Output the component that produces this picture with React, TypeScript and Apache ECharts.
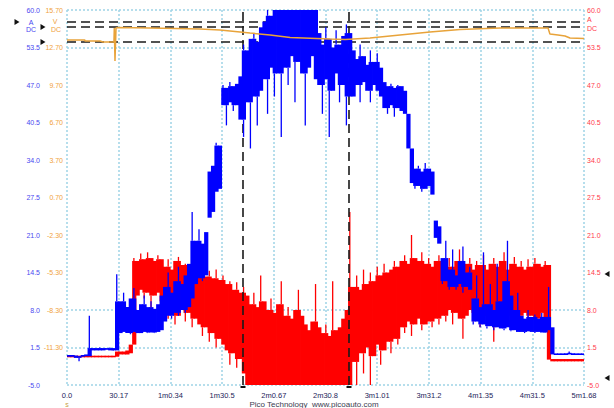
import { useEffect, useRef } from "react";
import * as echarts from "echarts";

const FONT = "Liberation Sans, Arial, sans-serif";

// Ten horizontal divisions spanning the capture
const timeLabels = ["0.0", "30.17", "1m0.34", "1m30.5", "2m0.67", "2m30.8", "3m1.01", "3m31.2", "4m1.35", "4m31.5", "5m1.68"];
const timeSpan = 301.68;

// Vertical division labels, listed top to bottom
const currentLabels = ["60.0", "53.5", "47.0", "40.5", "34.0", "27.5", "21.0", "14.5", "8.0", "1.5", "-5.0"];
const voltLabels = ["15.70", "12.70", "9.70", "6.70", "3.70", "0.70", "-2.30", "-5.30", "-8.30", "-11.30", ""];
const currentRange = [-5, 60];
const voltRange = [-14.3, 15.7];

// Division rows (from the top) that carry a dotted grid line
const gridRows = [0, 1, 8, 9, 10];

// Min/max envelope per 2 s bucket
const bucketSeconds = 2;

const blueHi = [
  0.2, 0.2, 0.1, 0.0, 0.2, 0.3, 7.0, 1.4, 1.4, 1.5,
  1.4, 1.4, 1.5, 1.4, 14.2, 9.5, 11.0, 8.5, 10.0, 11.8,
  8.0, 9.0, 10.5, 8.5, 9.5, 8.2, 9.0, 10.5, 12.0, 14.5,
  11.0, 13.0, 15.5, 12.5, 14.0, 16.0, 25.0, 20.0, 22.0, 19.5,
  21.5, 32.0, 33.0, 37.0, 36.5, 47.0, 46.5, 47.5, 46.8, 47.2,
  48.5, 54.0, 53.0, 55.0, 56.0, 54.5, 57.0, 58.0, 60.5, 59.0,
  61.0, 60.0, 62.0, 63.0, 63.0, 63.0, 63.0, 63.0, 63.0, 63.0,
  63.0, 63.0, 63.0, 56.0, 54.0, 57.0, 55.0, 53.5, 56.5, 54.0,
  55.5, 57.5, 56.0, 53.0, 51.5, 54.0, 52.0, 50.5, 53.0, 51.0,
  52.5, 50.0, 47.5, 46.8, 47.2, 46.5, 47.0, 46.8, 46.0, 42.0,
  36.0, 32.5, 33.0, 32.0, 33.5, 32.5, 32.0, 23.5, 22.5, 17.0,
  20.0, 15.0, 18.5, 14.0, 16.5, 19.0, 14.5, 15.5, 10.0, 14.0,
  8.5, 18.0, 9.0, 12.5, 8.0, 16.0, 9.5, 13.0, 20.0, 10.5,
  8.0, 11.0, 7.0, 6.5, 8.0, 6.8, 7.2, 6.5, 7.5, 6.8,
  12.0, 5.0, 0.4, 0.4, 0.4, 0.5, 0.8, 0.5, 0.4, 0.4,
  0.4,
];
const blueLo = [
  -0.1, -0.1, -0.3, -0.9, -0.1, 0.0, 0.0, 1.0, 1.0, 1.0,
  1.0, 1.1, 1.0, 0.9, 1.0, 4.0, 4.2, 4.0, 3.8, 4.2,
  4.0, 4.0, 4.2, 4.0, 4.1, 4.0, 4.2, 4.5, 6.0, 7.0,
  6.5, 7.5, 7.0, 8.0, 7.5, 8.5, 10.0, 12.5, 13.5, 13.0,
  14.0, 24.0, 25.0, 28.5, 29.0, 43.5, 40.0, 44.0, 42.5, 43.5,
  41.0, 38.0, 44.0, 36.0, 45.0, 40.0, 46.0, 48.0, 42.0, 50.0,
  45.0, 49.0, 38.0, 50.0, 47.0, 52.0, 44.0, 51.0, 49.0, 40.0,
  50.0, 52.0, 48.0, 47.0, 42.0, 48.0, 38.0, 46.0, 49.0, 44.0,
  47.0, 40.0, 45.0, 45.0, 47.0, 44.0, 47.5, 46.0, 44.0, 47.0,
  46.0, 45.0, 43.0, 42.0, 43.5, 41.5, 43.0, 42.5, 42.0, 36.0,
  30.0, 29.0, 29.5, 28.5, 29.0, 29.5, 28.0, 20.5, 19.5, 12.5,
  13.0, 11.5, 12.0, 11.5, 12.5, 11.0, 12.0, 11.5, 5.5, 6.0,
  5.0, 5.5, 4.8, 5.2, 4.5, 5.0, 4.8, 4.5, 5.0, 4.3,
  4.5, 4.2, 4.2, 4.0, 4.3, 4.2, 4.0, 4.2, 4.1, 4.0,
  4.5, 0.3, 0.2, 0.2, 0.2, 0.2, 0.3, 0.2, 0.2, 0.2,
  0.2,
];

const redHi = [
  -0.1, -0.1, -0.1, -0.1, -0.1, -0.1, -0.1, -0.1, -0.1, -0.1,
  -0.1, -0.1, -0.1, -0.1, 0.8, 0.8, 0.8, 1.0, 2.0, 17.0,
  16.5, 17.8, 16.8, 18.0, 17.0, 16.5, 17.5, 16.8, 15.5, 16.8,
  15.0, 16.5, 17.2, 15.8, 16.0, 15.2, 16.5, 15.0, 14.5, 15.5,
  13.8, 14.8, 13.5, 15.0, 13.2, 14.0, 12.5, 13.0, 11.5, 12.8,
  11.0, 12.0, 10.5, 9.0, 11.0, 8.5, 14.0, 9.5, 8.0, 10.0,
  7.5, 9.0, 13.0, 7.0, 8.5, 6.5, 8.0, 11.5, 7.0, 5.5,
  4.5, 6.0, 12.5, 5.0, 4.0, 5.5, 3.5, 13.0, 4.5, 5.0,
  6.5, 8.0, 25.0, 12.0, 14.0, 11.5, 15.0, 12.5, 14.5, 13.0,
  15.5, 14.0, 16.0, 14.5, 15.0, 16.5, 15.5, 16.5, 17.5, 16.0,
  21.0, 17.0, 16.5, 18.0, 16.0, 17.0, 15.5, 16.5, 17.5, 16.0,
  15.0, 17.0, 15.5, 16.5, 18.5, 15.5, 16.0, 17.0, 15.0, 16.5,
  15.8, 17.5, 15.0, 16.0, 17.0, 15.5, 16.5, 18.0, 15.0, 16.0,
  17.2, 15.5, 16.5, 15.0, 16.8, 15.5, 17.0, 16.0, 15.5, 16.5,
  15.8, -0.5, -0.5, -0.5, -0.5, -0.5, -0.5, -0.5, -0.5, -0.5,
  -0.5,
];
const redLo = [
  -0.2, -0.2, -0.2, -0.2, -0.2, -0.2, -0.2, -0.2, -0.2, -0.2,
  -0.2, -0.2, -0.2, -0.2, -0.1, 0.3, 0.3, 0.3, 0.5, 2.0,
  10.5, 11.5, 10.0, 11.0, 7.5, 10.5, 11.0, 9.5, 8.0, 6.5,
  8.5, 5.5, 7.0, 8.0, 6.0, 7.5, 5.0, 6.5, 5.5, 3.5,
  5.0, 2.5, 4.0, 1.5, 3.0, 2.0, 1.0, -1.5, 0.5, -2.0,
  -0.5, -3.0, -5.5, -5.5, -5.5, -5.5, -5.5, -5.5, -5.5, -5.5,
  -5.5, -5.5, -5.5, -5.5, -5.5, -5.5, -5.5, -5.5, -5.5, -5.5,
  -5.5, -5.5, -5.5, -5.5, -5.5, -5.5, -5.5, -5.5, -5.5, -5.5,
  -5.5, -5.5, -5.5, -1.0, -5.5, 0.5, -3.0, 1.5, -5.5, 0.0,
  2.0, -1.5, 1.0, 2.5, 0.5, 3.0, 2.0, 5.0, 4.0, 6.0,
  3.5, 5.5, 6.5, 4.5, 5.5, 6.0, 5.0, 6.5, 5.5, 7.0,
  6.0, 8.0, 5.5, 7.5, 6.5, 3.0, 7.0, 8.0, 6.0, 7.5,
  5.0, 7.0, 6.5, 8.0, 2.5, 6.5, 7.5, 5.5, 7.0, 8.5,
  6.0, 7.0, 5.5, 7.5, 6.5, 7.0, 5.0, 6.5, 7.5, 6.0,
  -0.6, -0.9, -0.9, -0.9, -0.9, -0.9, -0.9, -0.9, -0.9, -0.9,
  -0.9,
];

// Supply voltage trace
const orangeTimes = [0, 7.6, 10.4, 10.5, 19.3, 21.0, 27.4, 27.6, 28.0, 28.6, 29.8, 48.4, 77.6, 89.3, 106.8, 118.5, 130.2, 153.5, 162.3, 176.8, 194.3, 211.8, 229.3, 252.7, 280.7, 281.8, 286.5, 290.6, 293.5, 301.7];
const orangeVolts = [13.3, 13.3, 13.3, 13.22, 13.22, 13.14, 13.14, 14.26, 11.62, 14.26, 14.3, 14.26, 14.18, 14.1, 13.86, 13.7, 13.5, 13.38, 13.34, 13.46, 13.7, 13.94, 14.14, 14.26, 14.26, 13.78, 13.7, 13.62, 13.46, 13.42];

// Rulers
const rulerVolts = [14.74, 14.34, 13.14];
const rulerTimes = [102.7, 164.5];

// Each bucket is a filled column; the part of a bucket that pokes past both
// neighbours is drawn as a thin glitch line, like a scope's min/max trace.
function envelopeSeries(name: string, hi: number[], lo: number[], color: string, z: number) {
  const n = hi.length;
  return {
    name,
    type: "custom",
    xAxisIndex: 1,
    yAxisIndex: 3,
    z,
    silent: true,
    data: hi.map((h, i) => [i * bucketSeconds, lo[i], h]),
    encode: { x: 0, y: [1, 2] },
    renderItem: (params: any, api: any) => {
      const i = params.dataIndex;
      const t = api.value(0);
      const vLo = api.value(1);
      const vHi = api.value(2);
      const nHi = Math.max(i > 0 ? hi[i - 1] : vHi, i < n - 1 ? hi[i + 1] : vHi);
      const nLo = Math.min(i > 0 ? lo[i - 1] : vLo, i < n - 1 ? lo[i + 1] : vLo);
      let bodyTop = Math.min(vHi, nHi);
      let bodyBot = Math.max(vLo, nLo);
      if (bodyTop <= bodyBot) {
        bodyTop = vHi;
        bodyBot = vLo;
      }
      const cs = params.coordSys;
      const clip = { x: cs.x, y: cs.y, width: cs.width, height: cs.height };
      const x0 = api.coord([t, 0])[0];
      const x1 = api.coord([t + bucketSeconds, 0])[0];
      const y = (v: number) => api.coord([t, v])[1];
      const children: any[] = [];
      const push = (r: any) => {
        const s = echarts.graphic.clipRectByRect(r, clip);
        if (s) children.push({ type: "rect", shape: s, style: { fill: color } });
      };
      const bh = Math.max(y(bodyBot) - y(bodyTop), 1.6);
      push({ x: x0, y: y(bodyBot) - bh, width: x1 - x0 + 0.8, height: bh });
      const cx = (x0 + x1) / 2 - 0.6;
      if (vHi > bodyTop) push({ x: cx, y: y(vHi), width: 1.3, height: y(bodyTop) - y(vHi) });
      if (vLo < bodyBot) push({ x: cx, y: y(bodyBot), width: 1.3, height: y(vLo) - y(bodyBot) });
      return { type: "group", children };
    },
  };
}

function divisionAxis(labels: string[], color: string, position: string, margin: number) {
  return {
    type: "value",
    min: 0,
    max: 10,
    interval: 1,
    position,
    axisLine: { show: false },
    axisTick: { show: false },
    splitLine: { show: false },
    axisLabel: {
      color,
      fontSize: 7,
      fontFamily: FONT,
      margin,
      formatter: (v: number) => labels[10 - Math.round(v)] ?? "",
    },
  };
}

function tri(x: number, y: number, dir: number) {
  return {
    type: "polygon",
    shape: { points: [[x - 2.5 * dir, y - 3], [x + 2.5 * dir, y], [x - 2.5 * dir, y + 3]] },
    style: { fill: "#111" },
    silent: true,
  };
}

function label(x: number, y: number, text: string, fill: string, align = "center") {
  return {
    type: "text",
    x,
    y,
    style: { text, fill, font: `7px ${FONT}`, align, verticalAlign: "middle" },
    silent: true,
  };
}

export default function App() {
  const ref = useRef<HTMLDivElement>(null);

  useEffect(() => {
    const chart = echarts.init(ref.current!, null, { renderer: "svg" });
    const gridStyle = { color: "#9fd3e6", width: 1.5, type: [2, 2] };
    const noLine = { opacity: 0 };

    chart.setOption({
      animation: false,
      backgroundColor: "#ffffff",
      grid: { left: 67, top: 10, width: 517, height: 375, containLabel: false },
      xAxis: [
        {
          type: "value",
          min: 0,
          max: 10,
          interval: 1,
          position: "bottom",
          axisLine: { show: false },
          axisTick: { show: false },
          splitLine: { show: true, lineStyle: gridStyle },
          axisLabel: {
            color: "#24245a",
            fontSize: 7.5,
            fontFamily: FONT,
            margin: 6,
            formatter: (v: number) => timeLabels[Math.round(v)] ?? "",
          },
        },
        { type: "value", min: 0, max: timeSpan, show: false },
      ],
      yAxis: [
        divisionAxis(currentLabels, "#4a4af0", "left", 27),
        divisionAxis(voltLabels, "#f0a23c", "left", 4),
        divisionAxis(currentLabels, "#ff3a4a", "right", 3),
        { type: "value", min: currentRange[0], max: currentRange[1], show: false },
        { type: "value", min: voltRange[0], max: voltRange[1], show: false },
      ],
      series: [
        {
          name: "grid",
          type: "line",
          xAxisIndex: 0,
          yAxisIndex: 0,
          data: [[0, 0]],
          symbol: "none",
          lineStyle: noLine,
          silent: true,
          z: 1,
          markLine: {
            z: 1,
            silent: true,
            symbol: ["none", "none"],
            label: { show: false },
            lineStyle: gridStyle,
            data: gridRows.map((r) => ({ yAxis: 10 - r })),
          },
        },
        envelopeSeries("B", redHi, redLo, "#ff0000", 2),
        {
          name: "rulers",
          type: "line",
          xAxisIndex: 1,
          yAxisIndex: 4,
          data: [[0, 0]],
          symbol: "none",
          lineStyle: noLine,
          silent: true,
          z: 3,
          markLine: {
            z: 3,
            silent: true,
            symbol: ["none", "none"],
            label: { show: false },
            lineStyle: { color: "#1a1a1a", width: 1.6, type: [9, 5] },
            data: [
              ...rulerVolts.map((v) => ({ yAxis: v })),
              ...rulerTimes.map((t) => ({ xAxis: t })),
            ],
          },
        },
        envelopeSeries("A", blueHi, blueLo, "#0000ff", 4),
        {
          name: "C",
          type: "line",
          xAxisIndex: 1,
          yAxisIndex: 4,
          data: orangeTimes.map((t, i) => [t, orangeVolts[i]]),
          symbol: "none",
          lineStyle: { color: "#e8a33a", width: 1.5 },
          z: 5,
        },
      ],
      graphic: [
        label(31, 22, "A", "#4a4af0"),
        label(31, 29, "DC", "#4a4af0"),
        label(55, 21, "V", "#f0a23c"),
        label(56, 29, "DC", "#f0a23c"),
        label(587, 19, "A", "#ff3a4a", "left"),
        label(587, 28, "DC", "#ff3a4a", "left"),
        tri(17, 22, 1),
        tri(43, 27, 1),
        tri(43, 42, 1),
        tri(607, 274, -1),
        tri(607, 378, -1),
        { type: "rect", shape: { x: 240.5, y: 386, width: 5, height: 2 }, style: { fill: "#111" }, silent: true },
        { type: "rect", shape: { x: 346.5, y: 386, width: 5, height: 2 }, style: { fill: "#111" }, silent: true },
        label(67, 404, "s", "#c8a040"),
        {
          type: "text",
          x: 314,
          y: 404,
          style: {
            text: "Pico Technology  www.picoauto.com",
            fill: "#3c3c50",
            font: `8px ${FONT}`,
            align: "center",
            verticalAlign: "middle",
          },
          silent: true,
        },
      ],
    });

    return () => chart.dispose();
  }, []);

  return <div ref={ref} style={{ position: "fixed", left: 0, top: 0, width: 614, height: 408 }} />;
}
